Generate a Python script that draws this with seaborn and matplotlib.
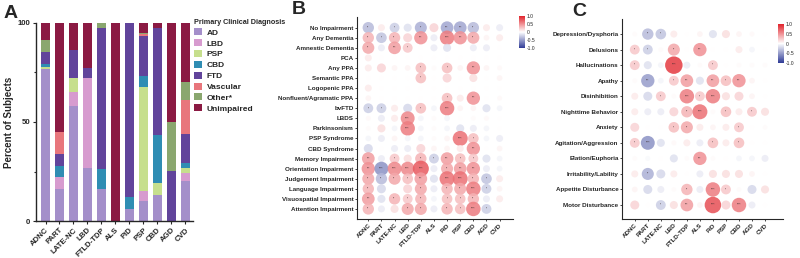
import numpy as np
import pandas as pd
import matplotlib
matplotlib.use("Agg")
import matplotlib.pyplot as plt
import seaborn as sns
from matplotlib.colors import LinearSegmentedColormap, Normalize
from matplotlib.cm import ScalarMappable
from matplotlib.patches import Patch

########################################################
# Data
########################################################

paths = ["ADNC", "PART", "LATE-NC", "LBD", "FTLD-TDP", "ALS",
         "PiD", "PSP", "CBD", "AGD", "CVD"]

dx_names = ["AD", "LBD", "PSP", "CBD", "FTD", "Vascular", "Other*", "Unimpaired"]
dx_colors = ["#a48fca", "#d79bcf", "#c6df8d", "#2f8db3", "#61449b",
             "#e8767c", "#8aa76f", "#8b1a43"]

# percent of subjects per pathology (columns follow `paths`)
pct_ad         = [77.0, 16.0, 58.0, 27.0, 16.0, 0, 6.0, 10.0, 13.0, 0, 20.3]
pct_lbd        = [0, 6.0, 7.0, 45.3, 0, 0, 0, 5.0, 0, 0, 3.7]
pct_psp        = [1.0, 0, 7.0, 0, 0, 0, 0, 52.7, 6.0, 0, 2.7]
pct_cbd        = [1.5, 6.0, 0, 0, 10.2, 0, 5.9, 5.6, 24.5, 0, 2.5]
pct_ftd        = [6.0, 6.0, 14.5, 5.1, 71.3, 0, 88.1, 19.9, 54.0, 25.3, 14.7]
pct_vascular   = [0, 11.2, 0, 0, 0, 0, 0, 1.0, 0, 0, 17.2]
pct_other      = [6.0, 0, 0, 0, 2.5, 0, 0, 1.0, 0, 24.9, 9.0]
pct_unimpaired = [8.5, 54.8, 13.5, 22.6, 0, 100.0, 0, 4.8, 2.5, 49.8, 29.9]

b_features = ["No Impairment", "Any Dementia", "Amnestic Dementia", "PCA", "Any PPA",
              "Semantic PPA", "Logopenic PPA", "Nonfluent/Agramatic PPA", "bvFTD", "LBDS",
              "Parkinsonism", "PSP Syndrome", "CBD Syndrome", "Memory Impairment",
              "Orientation Impairment", "Judgement Impairment", "Language Impairment",
              "Visuospatial Impairment", "Attention Impairment"]
b_corr = [
    [-0.35, 0.10, -0.25, -0.15, -0.40, 0.20, -0.45, -0.45, -0.35, 0.10, -0.10],
    [0.35, -0.30, 0.35, 0.20, 0.50, -0.10, 0.60, 0.50, 0.40, 0.05, 0.10],
    [0.40, -0.10, 0.45, 0.25, 0.00, -0.10, -0.15, 0.00, -0.10, -0.10, 0.00],
    [0.10, 0.00, 0.00, 0.00, 0.00, 0.00, 0.00, 0.00, 0.00, 0.00, 0.00],
    [0.10, 0.20, 0.05, 0.05, 0.30, 0.02, 0.30, 0.05, 0.50, 0.05, 0.03],
    [0.00, 0.00, 0.00, 0.00, 0.30, 0.00, 0.20, 0.00, 0.15, 0.00, 0.05],
    [0.10, 0.00, 0.00, 0.00, 0.00, 0.00, 0.00, 0.00, 0.00, 0.00, 0.00],
    [0.05, 0.00, 0.00, 0.00, 0.00, 0.00, 0.30, 0.10, 0.50, 0.00, 0.03],
    [-0.25, -0.25, 0.10, -0.20, 0.30, -0.05, 0.60, 0.05, 0.05, -0.15, -0.05],
    [0.03, -0.10, 0.10, 0.55, -0.05, 0.02, -0.05, 0.00, 0.02, 0.03, 0.00],
    [0.02, 0.15, -0.05, 0.60, -0.05, 0.02, -0.05, -0.15, -0.10, -0.05, 0.00],
    [-0.05, -0.10, 0.05, -0.05, -0.05, 0.02, 0.05, 0.65, 0.30, -0.05, -0.10],
    [-0.20, 0.00, -0.10, -0.10, 0.20, 0.05, 0.05, 0.10, 0.50, 0.00, 0.05],
    [0.45, -0.10, 0.25, 0.15, 0.35, -0.25, 0.45, 0.30, 0.25, -0.15, -0.05],
    [0.50, -0.55, 0.55, 0.55, 0.75, -0.10, 0.40, 0.45, 0.50, -0.10, -0.05],
    [0.40, -0.35, 0.40, 0.30, 0.45, -0.15, 0.65, 0.65, 0.35, -0.30, 0.10],
    [0.35, -0.20, 0.00, 0.20, 0.40, -0.10, 0.35, 0.40, 0.60, -0.25, 0.05],
    [0.45, -0.15, 0.35, 0.25, 0.35, -0.05, 0.30, 0.30, 0.35, -0.10, 0.10],
    [0.35, -0.10, 0.15, 0.40, 0.40, -0.10, 0.35, 0.30, 0.60, -0.25, 0.00],
]

c_features = ["Depression/Dysphoria", "Delusions", "Hallucinations", "Apathy",
              "Disinhibition", "Nighttime Behavior", "Anxiety", "Agitation/Aggression",
              "Elation/Euphoria", "Irritability/Lability", "Appetite Disturbance",
              "Motor Disturbance"]
c_corr = [
    [0.02, -0.35, -0.30, 0.10, 0.00, 0.05, -0.15, 0.15, 0.05, 0.03, 0.00],
    [0.25, -0.25, 0.02, 0.40, 0.00, 0.50, 0.00, 0.00, 0.10, -0.05, 0.00],
    [0.25, -0.15, -0.05, 0.90, -0.10, 0.02, 0.25, 0.00, 0.02, 0.02, 0.02],
    [0.02, -0.50, -0.05, 0.25, 0.45, -0.15, 0.45, 0.30, 0.50, 0.05, 0.00],
    [0.10, -0.20, 0.25, 0.02, 0.60, 0.25, 0.60, 0.15, 0.20, 0.05, 0.00],
    [0.10, -0.10, -0.10, 0.20, 0.35, 0.65, 0.02, 0.30, 0.10, 0.25, 0.15],
    [0.20, 0.00, 0.00, 0.30, 0.40, 0.10, 0.05, 0.10, 0.25, 0.00, 0.02],
    [0.25, -0.55, -0.15, 0.03, 0.10, -0.10, 0.30, 0.10, 0.30, 0.00, 0.00],
    [0.02, -0.03, 0.00, -0.15, 0.02, 0.50, 0.02, 0.00, -0.05, -0.05, -0.10],
    [0.10, -0.40, -0.20, 0.10, 0.00, -0.10, 0.15, 0.15, 0.15, 0.05, 0.00],
    [0.05, -0.20, -0.10, 0.02, 0.35, -0.10, 0.60, 0.25, 0.02, -0.20, 0.15],
    [0.20, 0.00, -0.25, 0.15, 0.45, 0.05, 0.80, 0.20, 0.60, -0.10, 0.00],
]

########################################################
# Style
########################################################

sns.set_style("ticks")
plt.rcParams["font.family"] = ["Liberation Sans", "DejaVu Sans"]
plt.rcParams["font.weight"] = "bold"

W, H = 800, 258
cmap = LinearSegmentedColormap.from_list("bwr2", ["#2e3a96", "#ffffff", "#e1242c"])


def fx(px):
    return px / W


def fy(py):
    return 1 - py / H


def stars(r):
    a = abs(r)
    if a >= 0.55:
        return "****"
    if a >= 0.42:
        return "***"
    if a >= 0.32:
        return "**"
    if a >= 0.22:
        return "*"
    return ""


def bubble_panel(ax, features, corr, xlim, ylim):
    df = pd.DataFrame(corr, index=features, columns=paths)
    long = df.reset_index().melt(id_vars="index", var_name="path", value_name="r")
    long = long.rename(columns={"index": "feature"})
    long["absr"] = long["r"].abs()
    sns.scatterplot(data=long, x="path", y="feature", hue="r", size="absr",
                    palette=cmap, hue_norm=(-1, 1), sizes=(9, 175), size_norm=(0, 1),
                    legend=False, edgecolor="none", alpha=0.85, ax=ax)
    for i, f in enumerate(features):
        for j, p in enumerate(paths):
            s = stars(df.loc[f, p])
            if s:
                ax.text(j, i, s, ha="center", va="center", fontsize=2.0,
                        color="#3a2a2a", fontweight="normal")
    ax.set_xlim(*xlim)
    ax.set_ylim(*ylim)
    ax.set_xlabel("")
    ax.set_ylabel("")
    ax.tick_params(axis="y", labelsize=4.5, length=1.5, width=0.6, pad=1)
    ax.tick_params(axis="x", labelsize=4.5, length=1.5, width=0.6, pad=1)
    plt.setp(ax.get_xticklabels(), rotation=45, ha="right", rotation_mode="anchor",
             fontweight="bold")
    plt.setp(ax.get_yticklabels(), fontweight="bold")
    sns.despine(ax=ax)
    for sp in ax.spines.values():
        sp.set_linewidth(0.8)


def add_colorbar(fig, rect):
    cax = fig.add_axes(rect)
    cb = fig.colorbar(ScalarMappable(norm=Normalize(-1, 1), cmap=cmap), cax=cax)
    cb.set_ticks([1, 0.5, 0, -0.5, -1])
    cb.set_ticklabels(["1.0", "0.5", "0", "-0.5", "-1.0"])
    cb.outline.set_visible(False)
    cax.tick_params(labelsize=3.6, length=0, pad=1.5)
    for t in cax.get_yticklabels():
        t.set_fontweight("normal")


########################################################
# Figure
########################################################

fig = plt.figure(figsize=(8, 2.58), dpi=100)

# Panel A: stacked bars
axA = fig.add_axes([fx(36), fy(221), fx(157), 198 / H])
stack = np.array([pct_ad, pct_lbd, pct_psp, pct_cbd, pct_ftd,
                  pct_vascular, pct_other, pct_unimpaired])
cum = np.cumsum(stack, axis=0)
for i in reversed(range(len(dx_names))):
    sns.barplot(x=paths, y=cum[i], color=dx_colors[i], width=0.68,
                saturation=1, linewidth=0, errorbar=None, ax=axA)
axA.set_xlim(-0.68, 10.55)
axA.set_ylim(0, 100)
axA.set_yticks([0, 50, 100])
axA.set_yticks([25, 75], minor=True)
axA.set_ylabel("Percent of Subjects", fontsize=7, fontweight="bold", labelpad=3)
axA.tick_params(axis="both", labelsize=5.6, length=2.5, width=0.8, pad=1.5)
axA.tick_params(axis="y", which="minor", length=1.5, width=0.8)
plt.setp(axA.get_xticklabels(), rotation=45, ha="right", rotation_mode="anchor",
         fontweight="bold")
plt.setp(axA.get_yticklabels(), fontweight="bold")
sns.despine(ax=axA)
for sp in axA.spines.values():
    sp.set_linewidth(1.0)

handles = [Patch(facecolor=c, edgecolor="none") for c in dx_colors]
fig.legend(handles, dx_names, title="Primary Clinical Diagnosis",
           loc="upper left", bbox_to_anchor=(fx(194), fy(19)), frameon=False,
           prop={"weight": "bold", "size": 6},
           title_fontproperties={"weight": "bold", "size": 5.2},
           handlelength=0.9, handleheight=0.9, handletextpad=0.6,
           labelspacing=0.3, borderpad=0, borderaxespad=0, alignment="left")

# Panel B: clinical features
axB = fig.add_axes([fx(357), fy(219), fx(156), 202 / H])
bubble_panel(axB, b_features, b_corr, (-0.86, 11.02), (19.0, -1.06))
add_colorbar(fig, [fx(519), fy(48), fx(6), 32 / H])

# Panel C: NPI-Q features
axC = fig.add_axes([fx(622), fy(219), fx(161), 200 / H])
bubble_panel(axC, c_features, c_corr, (-0.98, 11.38), (11.9, -0.97))
add_colorbar(fig, [fx(778), fy(63), fx(6), 39 / H])

fig.text(fx(4), fy(13), "A", fontsize=14, fontweight="bold", va="center")
fig.text(fx(292), fy(10), "B", fontsize=14, fontweight="bold", va="center")
fig.text(fx(572), fy(11), "C", fontsize=14, fontweight="bold", va="center")

fig.savefig("out.png", dpi=100)
